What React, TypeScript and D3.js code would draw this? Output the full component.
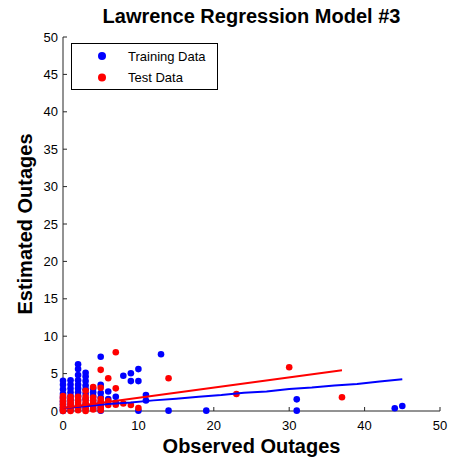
import React from "react";
import * as d3 from "d3";

const TITLE = "Lawrence Regression Model #3";
const X_LABEL = "Observed Outages";
const Y_LABEL = "Estimated Outages";
const X_TICKS = [0, 10, 20, 30, 40, 50];
const Y_TICKS = [0, 5, 10, 15, 20, 25, 30, 35, 40, 45, 50];
const LEGEND_LABELS = ["Training Data", "Test Data"];

// Training data (blue)
const trainX = [
  0, 0, 0, 0, 0, 0, 0, 0, 0, 0,
  1, 1, 1, 1, 1, 1, 1, 1, 1,
  2, 2, 2, 2, 2, 2, 2, 2, 2, 2, 2,
  3, 3, 3, 3, 3, 3, 3, 3, 3,
  4, 4, 4, 4, 4, 4,
  5, 5, 5, 5, 5, 5, 5,
  6, 6, 7, 7, 8, 9, 9, 10, 10, 10, 11, 11, 13, 14, 19, 31, 31, 44, 45,
];
const trainY = [
  4.05, 3.5, 2.9, 2.3, 1.8, 1.3, 0.9, 0.5, 0.2, 0.0,
  4.1, 3.55, 3.0, 2.5, 2.0, 1.5, 1.0, 0.5, 0.1,
  6.24, 5.6, 4.8, 4.1, 3.5, 3.0, 2.5, 2.0, 1.4, 0.8, 0.3,
  5.1, 4.6, 4.0, 3.4, 2.9, 2.3, 1.6, 0.9, 0.3,
  3.0, 2.5, 2.0, 1.4, 0.8, 0.3,
  7.26, 3.5, 2.4, 1.8, 1.2, 0.5, 0.05,
  2.6, 1.6, 1.9, 1.1, 4.72, 5.04, 4.0, 5.6, 4.0, 0.05, 2.14, 1.4, 7.58, 0.05, 0.05, 1.56, 0.05, 0.36, 0.67,
];

// Test data (red)
const testX = [
  0, 0, 0, 0, 0, 0, 0, 0,
  1, 1, 1, 1, 1, 1, 1,
  2, 2, 2, 2, 2, 2,
  3, 3, 3, 3, 3, 3, 3,
  4, 4, 4, 4, 4, 4,
  5, 5, 5, 5, 5, 5, 5,
  6, 6, 6, 7, 7, 7, 8, 9, 10, 14, 23, 30, 37,
];
const testY = [
  2.0, 1.7, 1.4, 1.1, 0.8, 0.5, 0.2, 0.0,
  1.9, 1.5, 1.2, 0.9, 0.6, 0.3, 0.0,
  1.9, 1.5, 1.1, 0.7, 0.4, 0.1,
  2.7, 1.9, 1.5, 1.1, 0.7, 0.3, 0.0,
  3.2, 1.8, 1.4, 1.0, 0.6, 0.2,
  5.5, 3.1, 1.6, 1.2, 0.8, 0.4, 0.1,
  4.37, 1.34, 0.8, 7.85, 3.03, 0.85, 1.0, 0.8, 0.4, 4.37, 2.27, 5.84, 1.83,
];

// Fitted lines
const trainFitX = [0, 3, 6, 9, 12, 15, 18, 21, 24, 27, 30, 33, 36, 39, 42, 45];
const trainFitY = [0.4, 0.62, 0.95, 1.15, 1.42, 1.65, 1.92, 2.15, 2.45, 2.62, 2.95, 3.15, 3.42, 3.62, 3.95, 4.24];
const testFitX = [0, 37];
const testFitY = [0.4, 5.45];

const BLUE = "#0000ff";
const RED = "#ff0000";
const FONT = "'Liberation Sans', Arial, sans-serif";

export default function App() {
  const W = 453;
  const H = 463;
  const left = 63;
  const right = 440;
  const top = 37;
  const bottom = 411;

  const x = d3.scaleLinear().domain([0, 50]).range([left, right]);
  const y = d3.scaleLinear().domain([0, 50]).range([bottom, top]);

  const line = d3
    .line<[number, number]>()
    .x((d) => x(d[0]))
    .y((d) => y(d[1]));

  const trainFit = trainFitX.map((v, i) => [v, trainFitY[i]] as [number, number]);
  const testFit = testFitX.map((v, i) => [v, testFitY[i]] as [number, number]);

  const axisColor = "#262626";
  const tickLen = 4;
  const r = 3.3;

  return (
    <svg
      width={W}
      height={H}
      style={{ position: "absolute", left: 0, top: 0, background: "#fff" }}
      fontFamily={FONT}
    >
      <rect x={0} y={0} width={W} height={H} fill="#fff" />
      {/* Title */}
      <text x={(left + right) / 2} y={23} textAnchor="middle" fontSize={20} fontWeight="bold" fill="#000">
        {TITLE}
      </text>

      {/* Axes */}
      <line x1={left} x2={left} y1={top} y2={bottom} stroke={axisColor} strokeWidth={1} />
      <line x1={left} x2={right} y1={bottom} y2={bottom} stroke={axisColor} strokeWidth={1} />
      {X_TICKS.map((t) => (
        <g key={"xt" + t}>
          <line x1={x(t)} x2={x(t)} y1={bottom} y2={bottom - tickLen} stroke={axisColor} />
          <text x={x(t)} y={bottom + 19} textAnchor="middle" fontSize={13} fill="#000">
            {t}
          </text>
        </g>
      ))}
      {Y_TICKS.map((t) => (
        <g key={"yt" + t}>
          <line x1={left} x2={left + tickLen} y1={y(t)} y2={y(t)} stroke={axisColor} />
          <text x={left - 5} y={y(t) + 4.5} textAnchor="end" fontSize={13} fill="#000">
            {t}
          </text>
        </g>
      ))}

      {/* Axis labels */}
      <text x={(left + right) / 2} y={453} textAnchor="middle" fontSize={20} fontWeight="bold" fill="#000">
        {X_LABEL}
      </text>
      <text
        transform={`translate(32, ${(top + bottom) / 2}) rotate(-90)`}
        textAnchor="middle"
        fontSize={20}
        fontWeight="bold"
        fill="#000"
      >
        {Y_LABEL}
      </text>

      {/* Scatter */}
      {trainX.map((v, i) => (
        <circle key={"tr" + i} cx={x(v)} cy={y(trainY[i])} r={r} fill={BLUE} />
      ))}
      {testX.map((v, i) => (
        <circle key={"te" + i} cx={x(v)} cy={y(testY[i])} r={r} fill={RED} />
      ))}

      {/* Fits */}
      <path d={line(trainFit) || ""} fill="none" stroke={BLUE} strokeWidth={2} />
      <path d={line(testFit) || ""} fill="none" stroke={RED} strokeWidth={2} />

      {/* Legend */}
      <rect x={71.5} y={43.5} width={146} height={46} fill="#fff" stroke="#000" strokeWidth={1} />
      {LEGEND_LABELS.map((lab, i) => (
        <g key={lab}>
          <circle cx={102} cy={56 + i * 21.5} r={4} fill={i === 0 ? BLUE : RED} />
          <text x={128} y={60.5 + i * 21.5} fontSize={13} fill="#000">
            {lab}
          </text>
        </g>
      ))}
    </svg>
  );
}
